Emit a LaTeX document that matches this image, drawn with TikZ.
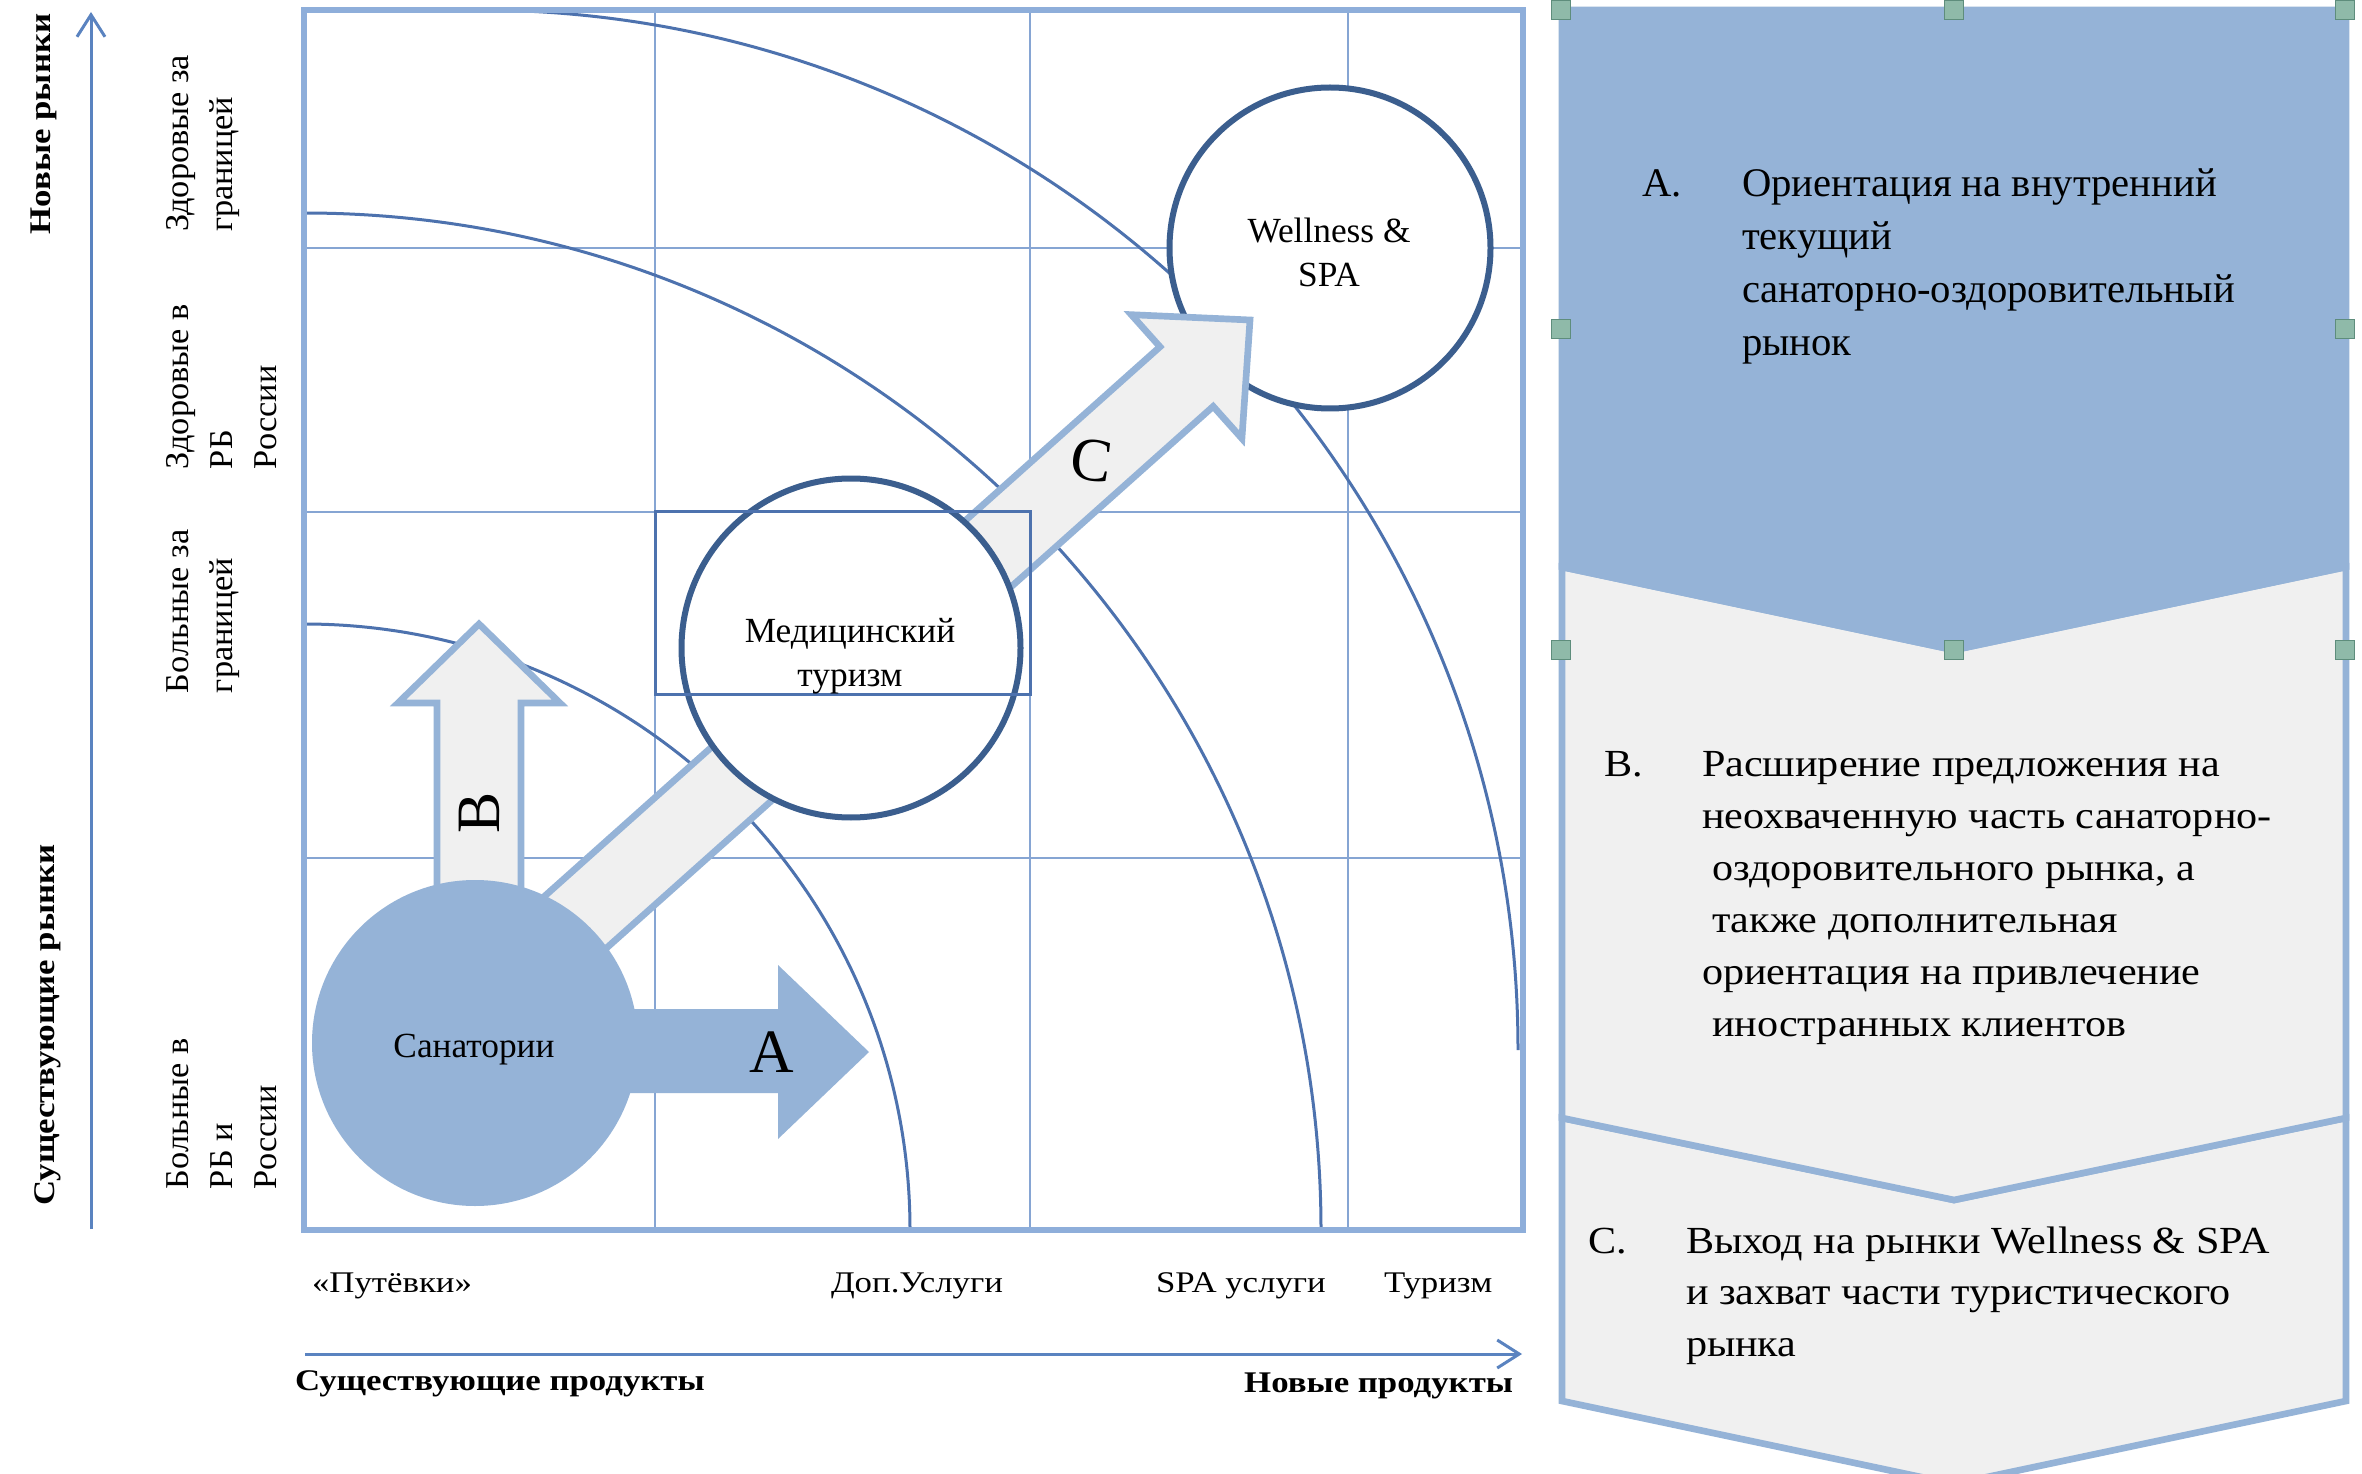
\documentclass[tikz,border=0pt]{standalone}
\usepackage{fontspec}
\setmainfont{Liberation Serif}
\newfontfamily\wf{Liberation Serif}[FakeStretch=1.16]
\newfontfamily\wfb{Liberation Serif}[FakeStretch=1.10]
\newfontfamily\wfc{Liberation Serif}[FakeStretch=1.03]
\usetikzlibrary{arrows.meta}
\definecolor{lblue}{HTML}{95B3D7}
\definecolor{frameb}{HTML}{8EAEDA}
\definecolor{gridb}{HTML}{86A5D3}
\definecolor{arcb}{HTML}{4D72AE}
\definecolor{dblue}{HTML}{3B5E8E}
\definecolor{lgrey}{HTML}{F0F0F0}
\definecolor{hfill}{HTML}{8FBAA9}
\definecolor{hdraw}{HTML}{5E8D7C}
\definecolor{axb}{HTML}{5A83C0}
\newcommand{\tl}[1]{\begin{tabular}[t]{@{}l@{}}#1\end{tabular}}
\begin{document}
\begin{tikzpicture}[x=0.3pt,y=-0.3pt,
  txt/.style={inner sep=0pt, outer sep=0pt},
  rowlab/.style={txt, rotate=90, anchor=base west, font=\wfc\fontsize{10}{13.2}\selectfont},
  collab/.style={txt, anchor=base west, font=\wf\fontsize{9}{11}\selectfont},
  axtitle/.style={txt, font=\wf\bfseries\fontsize{9}{11}\selectfont},
  gridline/.style={gridb, line width=0.6pt},
  arcline/.style={arcb, line width=0.9pt},
  bigarrow/.style={fill=lgrey, draw=lblue, line width=2pt, line join=miter},
  bubble/.style={circle, draw=dblue, line width=1.8pt, fill=white, inner sep=0pt},
  bubtxt/.style={txt, align=center, font=\fontsize{10.6}{13.2}\selectfont},
  arrowlet/.style={txt, font=\fontsize{18.5}{20}\selectfont},
  chev/.style={draw=lblue, line width=2pt, line join=miter},
  handle/.style={rectangle, draw=hdraw, fill=hfill, line width=0.5pt, minimum size=5.7pt, inner sep=0pt},
  paneltxt/.style={txt, anchor=base west},
  axisline/.style={axb, line width=0.9pt, -{Straight Barb[length=6.6pt, width=8.4pt, line width=0.9pt]}},
]
\useasboundingbox (0,0) rectangle (2362,1474);
\fill[white] (0,0) rectangle (2362,1474);

% ---------- right panel ----------
\filldraw[chev, fill=lgrey] (1562,1118) -- (1954,1200) -- (2346,1118) -- (2346,1401) -- (1954,1484) -- (1562,1401) -- cycle;
\filldraw[chev, fill=lgrey] (1562,567) -- (1954,650) -- (2346,567) -- (2346,1118) -- (1954,1200) -- (1562,1118) -- cycle;
\filldraw[chev, fill=lblue] (1562,10) -- (2346,10) -- (2346,567) -- (1954,650) -- (1562,567) -- cycle;

% ---------- grid ----------
\draw[gridline] (655,10) -- (655,1230) (1030,10) -- (1030,1230) (1348,10) -- (1348,1230)
  (304,248) -- (1523,248) (304,512) -- (1523,512) (304,858) -- (1523,858);
\draw[arcline] (304,624) arc[start angle=-90, end angle=0, radius=606];
\draw[arcline] (304,213) arc[start angle=-90, end angle=0, radius=1017];
\draw[arcline] (478,10) arc[start angle=-90, end angle=0, radius=1040];
\draw[frameb, line width=1.8pt] (304,10) rectangle (1523,1230);

% ---------- axes ----------
\coordinate (yb) at (91,1229); \coordinate (yt) at (91,12);
\coordinate (xl) at (305,1354); \coordinate (xr) at (1522,1354);
\draw[axisline] (yb) -- (yt);
\draw[axisline] (xl) -- (xr);

% ---------- bubbles and arrows ----------
\node[bubble, minimum size=96.3pt] (w) at (1330,248) {};
\filldraw[bigarrow] (431.9,996.8) -- (1160,346.8) -- (1131.3,314.7) -- (1250,320) -- (1241.9,438.5) -- (1213.2,406.4) -- (485.1,1056.4) -- cycle;
\filldraw[bigarrow] (437,1000) -- (437,703) -- (398,703) -- (479,624) -- (560,703) -- (521,703) -- (521,1000) -- cycle;
\fill[lblue] (476,1009) -- (778,1009) -- (778,965) -- (869,1052) -- (778,1139) -- (778,1093) -- (476,1093) -- cycle;
\node[bubble, draw=none, fill=lblue, minimum size=97.8pt] (s) at (475,1043) {};
\node[bubble, minimum size=101.7pt] (m) at (851,648) {};
\draw[arcb, line width=0.9pt] (655,512) rectangle (1030,694);

\node[bubtxt] (wt) at (1329,252) {Wellness \&\\SPA};
\node[bubtxt] (st) at (474,1050) {Санатории};
\node[bubtxt] (mt) at (850,656) {Медицинский\\туризм};

\node[arrowlet] (la) at (772,1052) {A};
\node[arrowlet, rotate=90] (lb) at (479,813) {B};
\node[arrowlet, rotate=-8] (lc) at (1092,460) {C};

% ---------- axis labels ----------
\node[axtitle, rotate=90] (ny) at (44,124) {Новые рынки};
\node[axtitle, rotate=90] (ey) at (48,1025) {Существующие рынки};
\node[axtitle, anchor=base west] (ex) at (295,1390) {Существующие продукты};
\node[axtitle, anchor=base east] (nx) at (1513,1392) {Новые продукты};

\node[rowlab] (r1) at (188,232) {\tl{Здоровые за\\границей}};
\node[rowlab] (r2) at (188,469) {\tl{Здоровые в\\РБ\\России}};
\node[rowlab] (r3) at (188,693) {\tl{Больные за\\границей}};
\node[rowlab] (r4) at (188,1189) {\tl{Больные в\\РБ и\\России}};

\node[collab] (c1) at (312,1292) {«Путёвки»};
\node[collab] (c2) at (831,1292) {Доп.Услуги};
\node[collab] (c3) at (1156,1292) {SPA услуги};
\node[collab] (c4) at (1384,1292) {Туризм};

% ---------- panel text ----------
\node[paneltxt, font=\fontsize{12.2}{15.9}\selectfont] (pa) at (1642,197) {A.};
\node[paneltxt, font=\fontsize{12.2}{15.9}\selectfont] (pat) at (1742,197)
  {\tl{Ориентация на внутренний\\текущий\\санаторно-оздоровительный\\рынок}};
\node[paneltxt, font=\wfb\fontsize{11.5}{15.6}\selectfont] (pb) at (1604,776) {B.};
\node[paneltxt, font=\wfb\fontsize{11.5}{15.6}\selectfont] (pbt) at (1702,776)
  {\tl{Расширение предложения на\\неохваченную часть санаторно-\\\hspace*{3pt}оздоровительного рынка, а\\\hspace*{3pt}также дополнительная\\ориентация на привлечение\\\hspace*{3pt}иностранных клиентов}};
\node[paneltxt, font=\wfb\fontsize{11.5}{15.45}\selectfont] (pc) at (1588,1253) {C.};
\node[paneltxt, font=\wfb\fontsize{11.5}{15.45}\selectfont] (pct) at (1686,1253)
  {\tl{Выход на рынки Wellness \& SPA\\и захват части туристического\\рынка}};

% ---------- selection handles ----------
\foreach \hx/\hy [count=\i] in {1561/10,1954/10,2345/10,1561/329,2345/329,1561/650,1954/650,2345/650}
  \node[handle] (h\i) at (\hx,\hy) {};
\end{tikzpicture}
\end{document}
